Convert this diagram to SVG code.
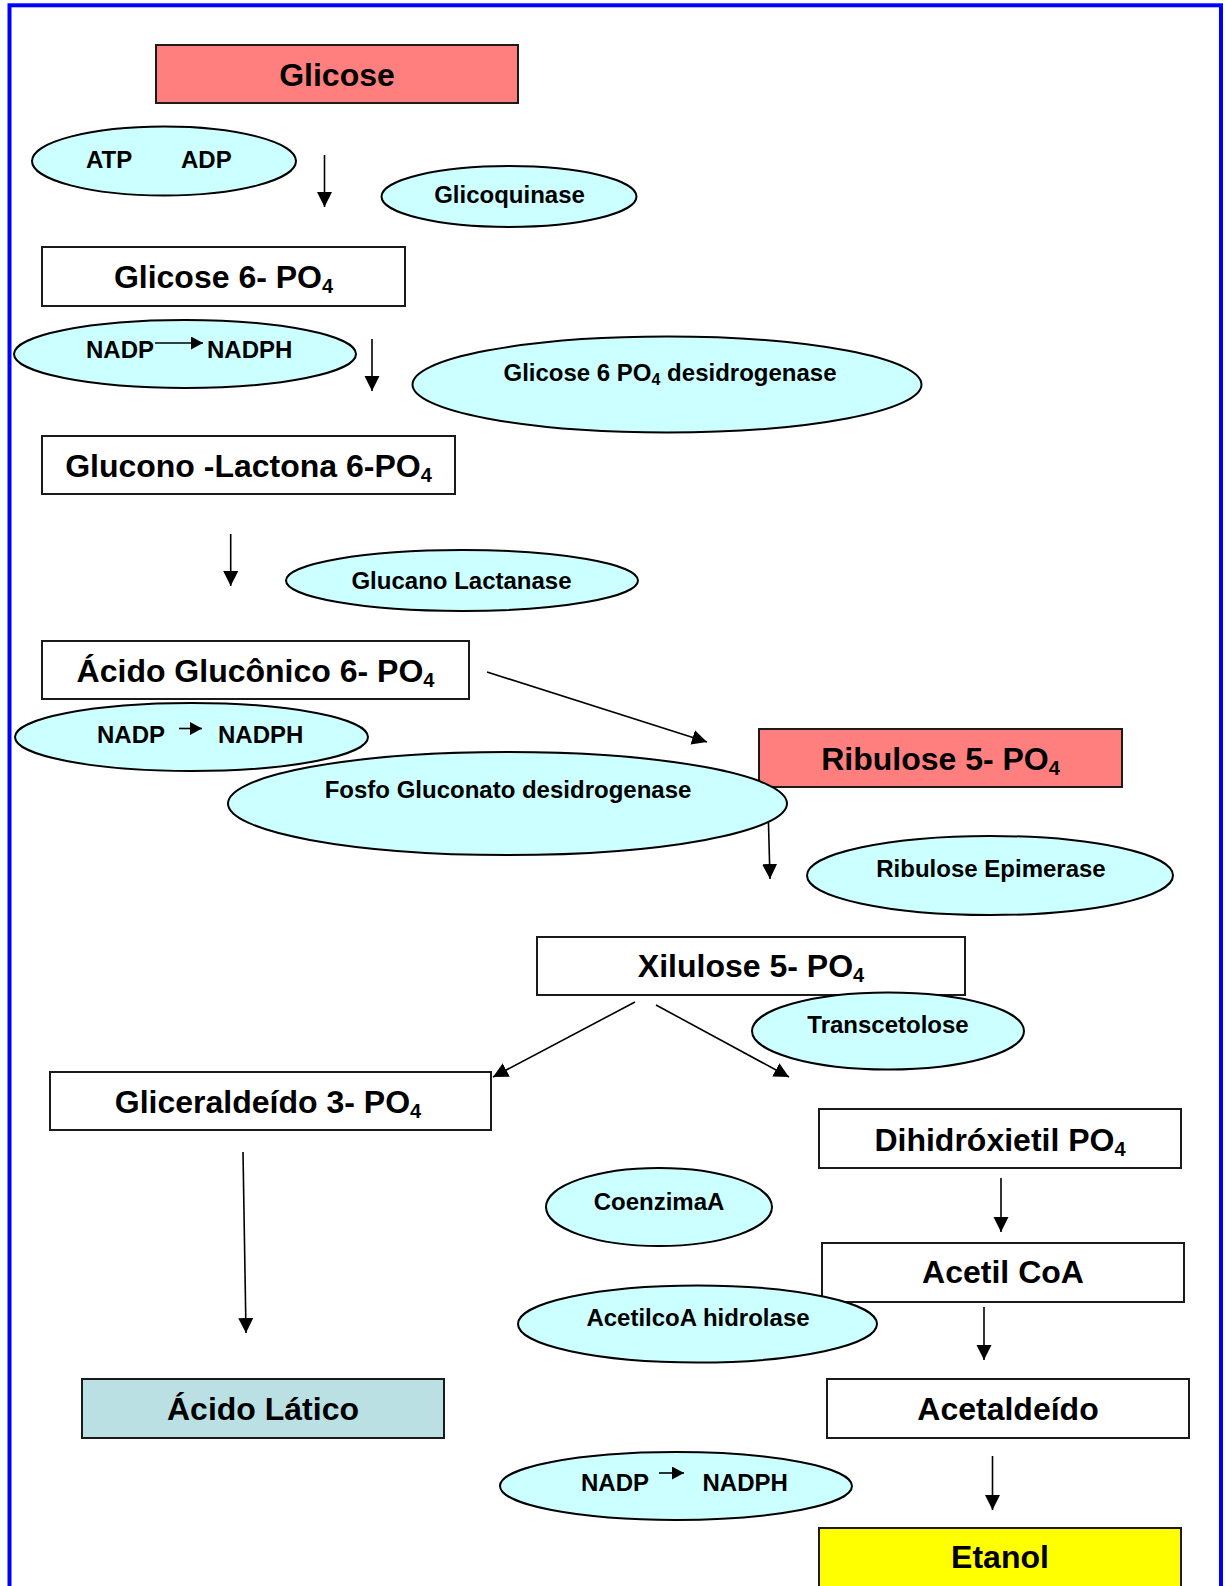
<svg xmlns="http://www.w3.org/2000/svg" width="1226" height="1586" viewBox="0 0 1226 1586">
<defs>
<style>
.box{stroke:#1a1a1a;stroke-width:2}
.w{fill:#ffffff}
.red{fill:#ff7f7f}
.ell{fill:#ccffff;stroke:#000;stroke-width:2}
.bt{font-family:"Liberation Sans",Arial,sans-serif;font-weight:bold;font-size:32px;fill:#000;text-anchor:middle}
.et{font-family:"Liberation Sans",Arial,sans-serif;font-weight:bold;font-size:24px;fill:#000;text-anchor:middle}
.es{font-family:"Liberation Sans",Arial,sans-serif;font-weight:bold;font-size:24px;fill:#000}
.sub{font-size:20px}
.subs{font-size:16px}
.ln{stroke:#000;stroke-width:1.6;fill:none}
</style>
<marker id="ah" markerUnits="userSpaceOnUse" markerWidth="16" markerHeight="16" refX="15" refY="7.5" orient="auto" viewBox="0 0 16 16">
<path d="M0,0 L15,7.5 L0,15 z" fill="#000"/>
</marker>
<marker id="sh" markerUnits="userSpaceOnUse" markerWidth="14" markerHeight="14" refX="12" refY="6.5" orient="auto" viewBox="0 0 14 14">
<path d="M0,0 L12,6.5 L0,13 z" fill="#000"/>
</marker>
</defs>
<rect x="0" y="0" width="1226" height="1586" fill="#ffffff"/>
<rect x="9.5" y="5.3" width="1211.5" height="1620" fill="none" stroke="#0000ff" stroke-width="4"/>

<g id="connectors">
<line class="ln" x1="324.5" y1="155" x2="324.5" y2="207" marker-end="url(#ah)"/>
<line class="ln" x1="372" y1="339" x2="372" y2="391" marker-end="url(#ah)"/>
<line class="ln" x1="230.7" y1="534" x2="230.7" y2="586" marker-end="url(#ah)"/>
<line class="ln" x1="487" y1="672" x2="707" y2="742" marker-end="url(#ah)"/>
<line class="ln" x1="767.5" y1="787" x2="770" y2="879" marker-end="url(#ah)"/>
<line class="ln" x1="635" y1="1002" x2="493" y2="1077" marker-end="url(#ah)"/>
<line class="ln" x1="656" y1="1005" x2="789" y2="1077" marker-end="url(#ah)"/>
<line class="ln" x1="243" y1="1152" x2="246" y2="1333" marker-end="url(#ah)"/>
<line class="ln" x1="1001" y1="1178" x2="1001" y2="1232" marker-end="url(#ah)"/>
<line class="ln" x1="984" y1="1307" x2="984" y2="1360" marker-end="url(#ah)"/>
<line class="ln" x1="992.5" y1="1456" x2="992.5" y2="1510" marker-end="url(#ah)"/>
</g>

<g id="glicose"><rect class="box red" x="156" y="45" width="362" height="58"/><text class="bt" x="337" y="86">Glicose</text></g>

<g id="atp-adp"><ellipse class="ell" cx="164" cy="161" rx="132" ry="34.5"/><text class="es" x="86" y="168">ATP</text><text class="es" x="181" y="168">ADP</text></g>

<g id="glicoquinase"><ellipse class="ell" cx="509" cy="196.5" rx="127.5" ry="30.5"/><text class="et" x="509.5" y="203">Glicoquinase</text></g>

<g id="glicose6po4"><rect class="box w" x="42" y="247" width="363" height="59"/><text class="bt" x="223.5" y="287.5">Glicose 6- PO<tspan class="sub" dy="5">4</tspan></text></g>

<g id="nadp1"><ellipse class="ell" cx="185" cy="354" rx="171" ry="34"/><text class="es" x="86" y="358">NADP</text><line class="ln" x1="155" y1="343" x2="203" y2="343" marker-end="url(#sh)"/><text class="es" x="207" y="358">NADPH</text></g>

<g id="g6pdh"><ellipse class="ell" cx="667" cy="384.5" rx="254.5" ry="48"/><text class="et" x="670" y="381">Glicose 6 PO<tspan class="subs" dy="4">4</tspan><tspan dy="-4"> desidrogenase</tspan></text></g>

<g id="glucono"><rect class="box w" x="42" y="436" width="413" height="58"/><text class="bt" x="248.5" y="477">Glucono -Lactona 6-PO<tspan class="sub" dy="5">4</tspan></text></g>

<g id="glucano"><ellipse class="ell" cx="462" cy="580.5" rx="176" ry="30.5"/><text class="et" x="461.5" y="589">Glucano Lactanase</text></g>

<g id="acido-gluconico"><rect class="box w" x="42" y="641" width="427" height="58"/><text class="bt" x="255.5" y="682">Ácido Glucônico 6- PO<tspan class="sub" dy="5">4</tspan></text></g>

<g id="ribulose"><rect class="box red" x="759" y="729" width="363" height="58"/><text class="bt" x="940.5" y="770">Ribulose 5- PO<tspan class="sub" dy="5">4</tspan></text></g>

<g id="nadp2"><ellipse class="ell" cx="191.5" cy="737" rx="176.5" ry="34"/><text class="es" x="97" y="743">NADP</text><line class="ln" x1="179" y1="728.5" x2="202" y2="728.5" marker-end="url(#sh)"/><text class="es" x="218" y="743">NADPH</text></g>

<g id="fosfo"><ellipse class="ell" cx="507.5" cy="803.5" rx="279.5" ry="51.5"/><text class="et" x="508" y="798">Fosfo Gluconato desidrogenase</text></g>

<g id="epimerase"><ellipse class="ell" cx="990" cy="875.5" rx="183" ry="39.5"/><text class="et" x="991" y="877">Ribulose Epimerase</text></g>

<g id="xilulose"><rect class="box w" x="537" y="937" width="428" height="58"/><text class="bt" x="751" y="977">Xilulose 5- PO<tspan class="sub" dy="5">4</tspan></text></g>

<g id="transcetolose"><ellipse class="ell" cx="888" cy="1031" rx="136" ry="38.5"/><text class="et" x="888" y="1033">Transcetolose</text></g>

<g id="gliceraldeido"><rect class="box w" x="50" y="1072" width="441" height="58"/><text class="bt" x="268" y="1113">Gliceraldeído 3- PO<tspan class="sub" dy="5">4</tspan></text></g>

<g id="dihidroxietil"><rect class="box w" x="819" y="1109" width="362" height="59"/><text class="bt" x="1000" y="1151">Dihidróxietil PO<tspan class="sub" dy="5">4</tspan></text></g>

<g id="coenzima"><ellipse class="ell" cx="659" cy="1207" rx="113" ry="39"/><text class="et" x="659" y="1210">CoenzimaA</text></g>

<g id="acetilcoa"><rect class="box w" x="822" y="1243" width="362" height="59"/><text class="bt" x="1003" y="1283">Acetil CoA</text></g>

<g id="hidrolase"><ellipse class="ell" cx="697.5" cy="1324" rx="179.5" ry="38.5"/><text class="et" x="698" y="1326">AcetilcoA hidrolase</text></g>

<g id="acido-latico"><rect class="box" fill="#bbe0e3" x="82" y="1379" width="362" height="59"/><text class="bt" x="263" y="1419.5">Ácido Lático</text></g>

<g id="acetaldeido"><rect class="box w" x="827" y="1379" width="362" height="59"/><text class="bt" x="1008" y="1419.5">Acetaldeído</text></g>

<g id="nadp3"><ellipse class="ell" cx="676" cy="1486" rx="176" ry="34"/><text class="es" x="581" y="1490.5">NADP</text><line class="ln" x1="659" y1="1473" x2="684" y2="1473" marker-end="url(#sh)"/><text class="es" x="702.5" y="1490.5">NADPH</text></g>

<g id="etanol"><rect class="box" fill="#ffff00" x="819" y="1528" width="362" height="62"/><text class="bt" x="1000" y="1568">Etanol</text></g>
</svg>
